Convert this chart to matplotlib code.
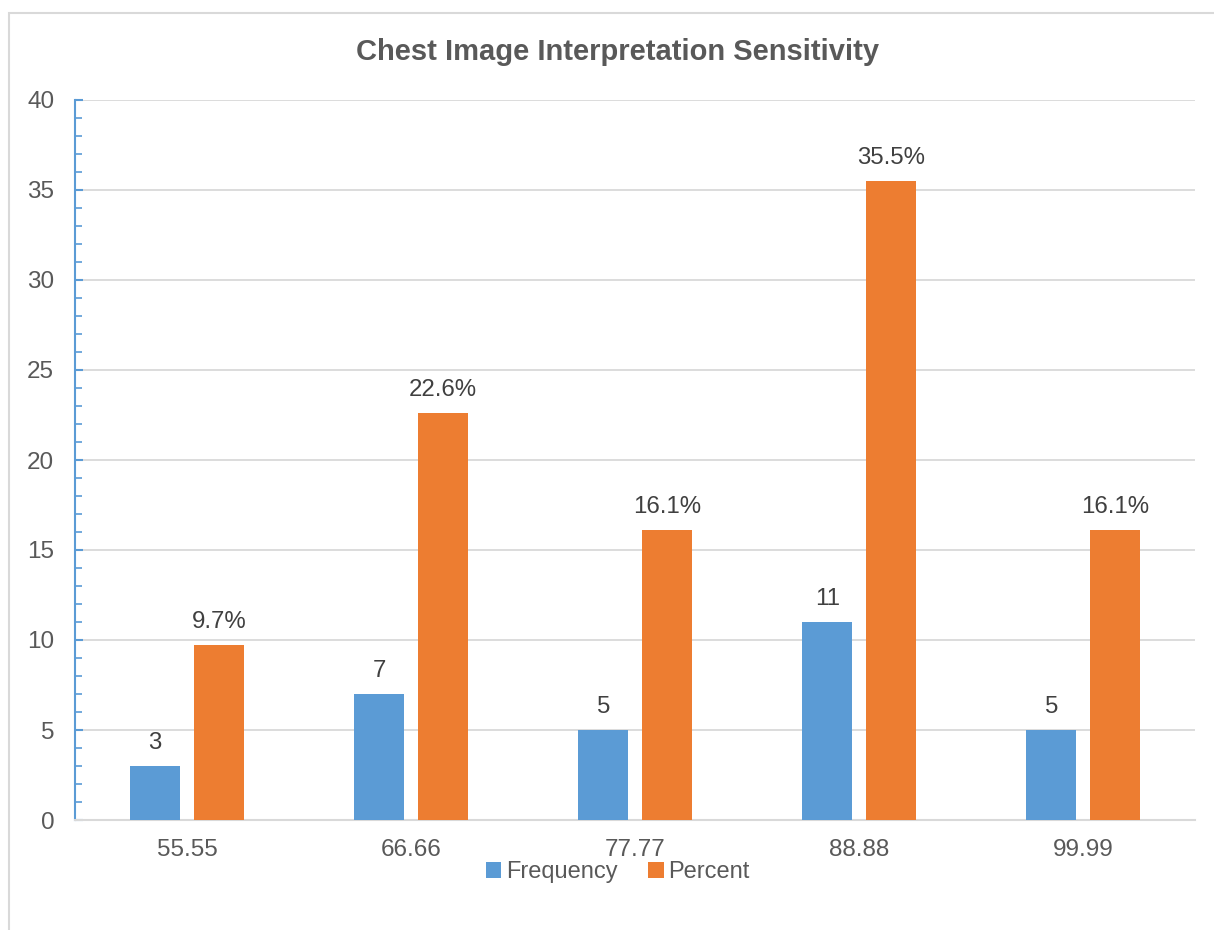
import matplotlib
matplotlib.use("Agg")
import matplotlib.pyplot as plt
from matplotlib.patches import Rectangle
from matplotlib.ticker import MultipleLocator
import numpy as np

categories = ["55.55", "66.66", "77.77", "88.88", "99.99"]
frequency = [3, 7, 5, 11, 5]
percent = [9.7, 22.6, 16.1, 35.5, 16.1]
series_names = ["Frequency", "Percent"]
title = "Chest Image Interpretation Sensitivity"

blue = "#5B9BD5"
orange = "#ED7D31"
text_gray = "#595959"
grid_gray = "#D9D9D9"

plt.rcParams["font.family"] = ["Liberation Sans", "DejaVu Sans"]

W, H = 1214, 930
fig = plt.figure(figsize=(W / 100, H / 100), dpi=100)

# chart border
fig.add_artist(Rectangle((9 / W, -0.1), 1.2, 1 - 13 / H + 0.1, transform=fig.transFigure,
                         fill=False, edgecolor=grid_gray, linewidth=1.5))

ax = fig.add_axes([75 / W, 1 - 820 / H, (1195 - 75) / W, (820 - 100) / H])

x = np.arange(len(categories))
bw = 0.223
off = 0.142
b1 = ax.bar(x - off, frequency, bw, color=blue, label=series_names[0], zorder=3)
b2 = ax.bar(x + off, percent, bw, color=orange, label=series_names[1], zorder=3)

lab_gap = 0.94
for rect, v in zip(b1, frequency):
    ax.text(rect.get_x() + rect.get_width() / 2, v + lab_gap, f"{v}", ha="center",
            va="baseline", fontsize=17.3, color="#404040")
for rect, v in zip(b2, percent):
    ax.text(rect.get_x() + rect.get_width() / 2, v + lab_gap, f"{v}%", ha="center",
            va="baseline", fontsize=17.3, color="#404040")

ax.set_xlim(-0.5, len(categories) - 0.5)
ax.set_ylim(0, 40)
ax.yaxis.set_major_locator(MultipleLocator(5))
ax.yaxis.set_minor_locator(MultipleLocator(1))
ax.grid(axis="y", which="major", color=grid_gray, linewidth=1.3, zorder=0)
ax.set_xticks(x)
ax.set_xticklabels(categories)

for s in ["top", "right"]:
    ax.spines[s].set_visible(False)
ax.spines["left"].set_color(blue)
ax.spines["left"].set_linewidth(1.5)
ax.spines["bottom"].set_color(grid_gray)
ax.spines["bottom"].set_linewidth(1.5)

ax.tick_params(axis="y", which="major", direction="in", length=6, width=1.5, color=blue,
               labelsize=17.5, labelcolor=text_gray, pad=15)
ax.tick_params(axis="y", which="minor", direction="in", length=5, width=1.2, color=blue)
ax.tick_params(axis="x", which="both", length=0, labelsize=17.5, labelcolor=text_gray, pad=14)

fig.text(618 / W, 1 - 52 / H, title, ha="center", va="center", fontsize=21,
         fontweight="bold", color=text_gray)

leg = fig.legend(handles=[b1, b2], labels=series_names, loc="center",
                 bbox_to_anchor=(618 / W, 1 - 872 / H), ncol=2, frameon=False,
                 fontsize=17, handlelength=0.65, handleheight=0.65, handletextpad=0.2,
                 columnspacing=1.3)
for t in leg.get_texts():
    t.set_color(text_gray)

fig.savefig("out.png", dpi=100, facecolor="white")
